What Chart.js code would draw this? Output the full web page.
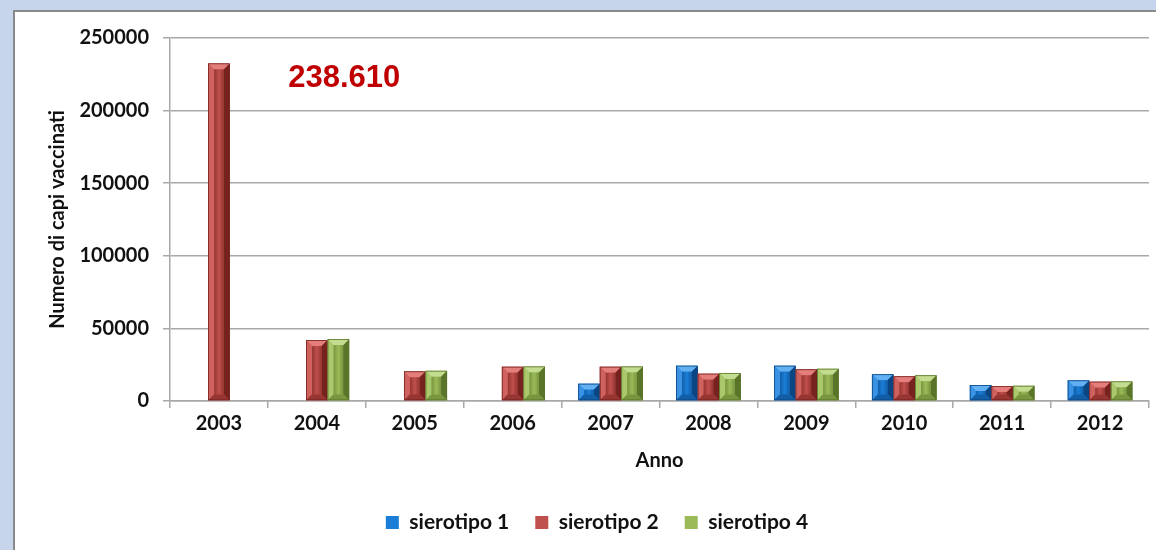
<!DOCTYPE html>
<html>
<head>
<meta charset="utf-8">
<script src="https://cdn.jsdelivr.net/npm/chart.js@4.4.1/dist/chart.umd.min.js"></script>
<style>
  html, body { margin: 0; padding: 0; }
  body { width: 1156px; height: 550px; background: #c6d5ec; position: relative; overflow: hidden; }
  #panel {
    position: absolute; left: 13px; top: 10px; width: 1143px; height: 540px;
    background: #ffffff; border-left: 2px solid #8a8a8a; border-top: 2px solid #8a8a8a;
    box-sizing: border-box;
  }
  #chart { display: block; }
</style>
</head>
<body>
<div id="panel"><canvas id="chart" width="1141" height="538"></canvas></div>
<script>
const years = ['2003', '2004', '2005', '2006', '2007', '2008', '2009', '2010', '2011', '2012'];
const sierotipo1 = [null, null, null, null, 11900, 24300, 24300, 18400, 11000, 14200];
const sierotipo2 = [232500, 42000, 20400, 23600, 23600, 18800, 21800, 17000, 10300, 13300];
const sierotipo4 = [null, 42600, 20800, 23800, 23800, 19300, 22200, 17700, 10500, 13500];
const yTicks = [0, 50000, 100000, 150000, 200000, 250000];
const totalLabel = '238.610';

const palette = {
  blue: { base: '#1a7ed8', light: '#62b0f2', mid: '#3a92e4', dark: '#0b4682', shade: '#125ea6' },
  red: { base: '#c0504d', light: '#e47e7b', mid: '#cf625f', dark: '#76221f', shade: '#963532' },
  green: { base: '#9bbb59', light: '#c4dc90', mid: '#abc96c', dark: '#5a752a', shade: '#78963e' }
};

const axisGray = '#a8a8a8';
const textColor = '#111111';

// draws the slanted bevel faces on top of every bar
const bevelPlugin = {
  id: 'bevel',
  afterDatasetsDraw(chart) {
    const ctx = chart.ctx;
    chart.data.datasets.forEach((ds, i) => {
      const meta = chart.getDatasetMeta(i);
      if (meta.hidden) return;
      const pal = ds.bevel;
      meta.data.forEach(bar => {
        const p = bar.getProps(['x', 'y', 'base', 'width'], true);
        if (p.y == null || isNaN(p.y)) return;
        const L = p.x - p.width / 2, R = p.x + p.width / 2;
        const T = Math.min(p.y, p.base), B = Math.max(p.y, p.base);
        const h = B - T;
        if (h < 1) return;
        const b = Math.min(6, p.width / 2.6, h / 2);
        const l = L + b, r = R - b, t = T + b, bt = B - b;
        const face = (pts, color) => {
          ctx.beginPath();
          ctx.moveTo(pts[0][0], pts[0][1]);
          for (let k = 1; k < pts.length; k++) ctx.lineTo(pts[k][0], pts[k][1]);
          ctx.closePath();
          ctx.fillStyle = color;
          ctx.fill();
        };
        ctx.save();
        face([[L, T], [R, T], [r, t], [l, t]], pal.light);
        face([[L, T], [l, t], [l, bt], [L, B]], pal.mid);
        face([[R, T], [R, B], [r, bt], [r, t]], pal.dark);
        face([[L, B], [R, B], [r, bt], [l, bt]], pal.shade);
        if (r > l && bt > t) {
          const g = ctx.createLinearGradient(l, 0, r, 0);
          g.addColorStop(0, pal.shade);
          g.addColorStop(0.5, pal.base);
          g.addColorStop(1, pal.shade);
          ctx.fillStyle = g;
          ctx.fillRect(l, t, r - l, bt - t);
        }
        ctx.strokeStyle = pal.dark;
        ctx.lineWidth = 0.8;
        ctx.strokeRect(L + 0.4, T + 0.4, p.width - 0.8, h - 0.8);
        ctx.restore();
      });
    });
  }
};

// red total written next to the 2003 bar
const totalPlugin = {
  id: 'totalLabel',
  afterDraw(chart) {
    const { ctx, scales } = chart;
    ctx.save();
    ctx.font = 'bold 31px "Liberation Sans", Arial, sans-serif';
    ctx.fillStyle = '#c00000';
    ctx.textAlign = 'center';
    ctx.textBaseline = 'middle';
    ctx.fillText(totalLabel, scales.x.getPixelForValue(1.28), scales.y.getPixelForValue(221800));
    ctx.restore();
  }
};

// legend sits a bit right of the canvas centre in the original
const legendShift = {
  id: 'legendShift',
  afterLayout(chart) {
    if (chart.legend) {
      chart.legend.left += 15;
      chart.legend.right += 15;
    }
  }
};

const tickFont = { family: 'Lato, "Liberation Sans", sans-serif', size: 20, weight: 'bold' };
const titleFont = { family: 'Lato, "Liberation Sans", sans-serif', size: 20, weight: 'bold' };

new Chart(document.getElementById('chart'), {
  type: 'bar',
  data: {
    labels: years,
    datasets: [
      { label: 'sierotipo 1', data: sierotipo1, backgroundColor: palette.blue.base, bevel: palette.blue },
      { label: 'sierotipo 2', data: sierotipo2, backgroundColor: palette.red.base, bevel: palette.red },
      { label: 'sierotipo 4', data: sierotipo4, backgroundColor: palette.green.base, bevel: palette.green }
    ]
  },
  options: {
    responsive: false,
    animation: false,
    devicePixelRatio: 1,
    layout: { padding: { left: 0, right: 7, top: 25, bottom: 7 } },
    datasets: { bar: { barPercentage: 1, categoryPercentage: 0.66, borderWidth: 0 } },
    plugins: {
      legend: {
        position: 'bottom',
        labels: {
          color: textColor,
          font: { family: 'Lato, "Liberation Sans", sans-serif', size: 21, weight: 'bold' },
          boxWidth: 13,
          boxHeight: 13,
          padding: 26
        }
      },
      tooltip: { enabled: false }
    },
    scales: {
      x: {
        grid: { drawOnChartArea: false, drawTicks: true, tickLength: 7, color: axisGray, lineWidth: 1.5 },
        border: { display: true, color: axisGray, width: 1.5 },
        ticks: { color: textColor, font: tickFont, padding: 4, maxRotation: 0 },
        title: { display: true, text: 'Anno', color: textColor, font: titleFont, padding: { top: 0, bottom: 13 } },
        afterFit: (scale) => { scale.height = 85; }
      },
      y: {
        min: 0,
        max: 250000,
        afterBuildTicks: (scale) => { scale.ticks = yTicks.map(v => ({ value: v })); },
        grid: { color: axisGray, lineWidth: 1.5, tickLength: 7, drawTicks: true },
        border: { display: true, color: axisGray, width: 1.5 },
        ticks: { color: textColor, font: tickFont, padding: 14, callback: (val) => String(val) },
        title: { display: true, text: 'Numero di capi vaccinati', color: textColor, font: titleFont, padding: { top: 31, bottom: 0 } },
        afterFit: (scale) => { scale.width = 155; }
      }
    }
  },
  plugins: [bevelPlugin, totalPlugin, legendShift]
});
</script>
</body>
</html>
